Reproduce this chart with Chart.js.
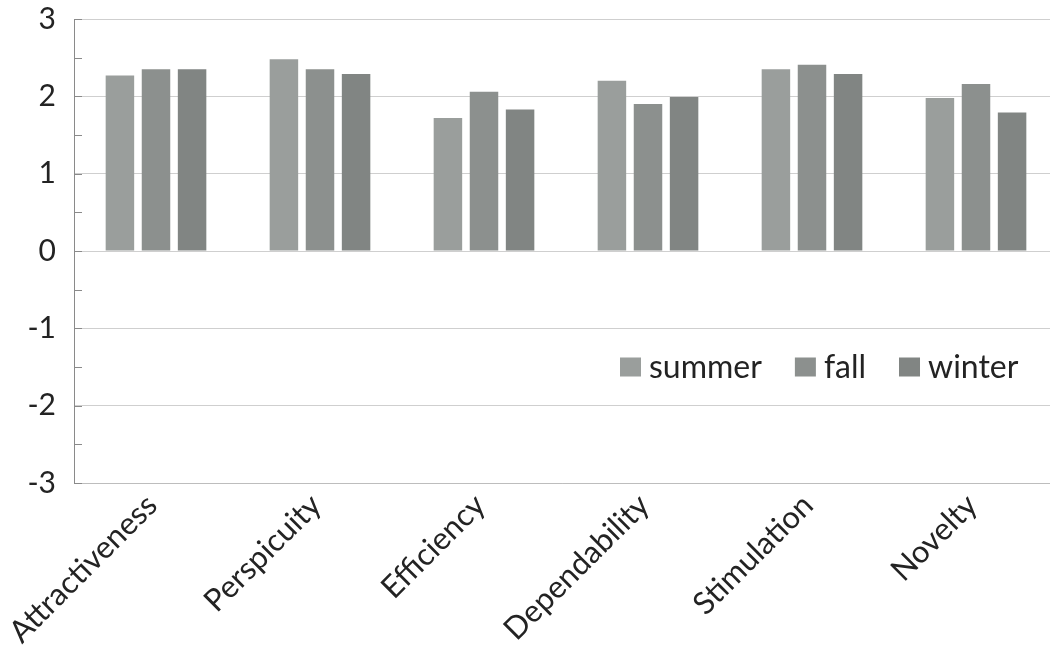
<!DOCTYPE html>
<html>
<head>
<meta charset="utf-8">
<script src="https://cdn.jsdelivr.net/npm/chart.js@4.4.1/dist/chart.umd.min.js"></script>
<style>
  html, body { margin: 0; padding: 0; background: #ffffff; }
  #wrap { width: 1050px; height: 655px; position: relative; }
</style>
</head>
<body>
<div id="wrap"><canvas id="c" width="1050" height="655"></canvas></div>
<script>
// UEQ scale means per season
const categories = ['Attractiveness', 'Perspicuity', 'Efficiency', 'Dependability', 'Stimulation', 'Novelty'];
const summer = [2.27, 2.48, 1.72, 2.20, 2.35, 1.98];
const fall   = [2.35, 2.35, 2.06, 1.90, 2.41, 2.16];
const winter = [2.35, 2.29, 1.83, 1.99, 2.29, 1.79];
const seriesNames = ['summer', 'fall', 'winter'];
const yTicks = [-3, -2, -1, 0, 1, 2, 3];

const colors = ['#9a9e9c', '#8c908e', '#818583'];
const FONT = 'Lato, "Noto Sans", sans-serif';
const TEXT = '#232323';

// the plot area runs a little past the right edge of the canvas
const widenPlot = {
  id: 'widenPlot',
  afterLayout(chart) {
    const extra = 8;
    const x = chart.scales.x;
    chart.chartArea.right += extra;
    chart.chartArea.width = chart.chartArea.right - chart.chartArea.left;
    x.right += extra;
    x.width = x.right - x.left;
    x.configure();
    chart.scales.y.configure();
  }
};

// small inward tick marks on the value axis at every half unit
const minorTicks = {
  id: 'minorTicks',
  afterDatasetsDraw(chart) {
    const y = chart.scales.y;
    const ctx = chart.ctx;
    const x0 = chart.chartArea.left;
    ctx.save();
    ctx.strokeStyle = '#8a8a8a';
    ctx.lineWidth = 1;
    for (let v = yTicks[0]; v <= yTicks[yTicks.length - 1]; v += 0.5) {
      const py = Math.round(y.getPixelForValue(v)) + 0.5;
      ctx.beginPath();
      ctx.moveTo(x0, py);
      ctx.lineTo(x0 + 8, py);
      ctx.stroke();
    }
    ctx.restore();
  }
};

// legend laid out inside the plot area, on one row
const innerLegend = {
  id: 'innerLegend',
  afterDraw(chart) {
    const ctx = chart.ctx;
    const area = chart.chartArea;
    const y = chart.scales.y;
    ctx.save();
    ctx.font = '32px ' + FONT;
    ctx.textBaseline = 'middle';
    ctx.textAlign = 'left';
    const boxW = 21, boxH = 19, gapText = 8, gapItem = 33;
    let x = area.left + 546;
    const cy = y.getPixelForValue(-1.5);
    chart.data.datasets.forEach((ds) => {
      ctx.fillStyle = ds.backgroundColor;
      ctx.fillRect(x, cy - boxH / 2, boxW, boxH);
      x += boxW + gapText;
      ctx.fillStyle = TEXT;
      ctx.fillText(ds.label, x, cy + 1);
      x += ctx.measureText(ds.label).width + gapItem;
    });
    ctx.restore();
  }
};

const datasets = [summer, fall, winter].map((vals, i) => ({
  label: seriesNames[i],
  data: vals,
  backgroundColor: colors[i],
  borderWidth: 0,
  categoryPercentage: 0.66,
  barPercentage: 0.79
}));

new Chart(document.getElementById('c'), {
  type: 'bar',
  data: { labels: categories, datasets },
  options: {
    responsive: false,
    animation: false,
    devicePixelRatio: 1,
    layout: { padding: { top: 19, right: 0, bottom: 0, left: 0 } },
    plugins: {
      legend: { display: false },
      tooltip: { enabled: false }
    },
    scales: {
      x: {
        grid: { display: false },
        border: { display: true, color: '#bdbdbd', width: 1 },
        ticks: {
          color: TEXT,
          font: { family: FONT, size: 31 },
          minRotation: 45,
          maxRotation: 45,
          padding: -4,
          labelOffset: -4,
          autoSkip: false
        },
        afterFit(scale) {
          scale.height = 172;
          scale.paddingLeft = 0;
          scale.paddingRight = 0;
        }
      },
      y: {
        min: yTicks[0],
        max: yTicks[yTicks.length - 1],
        afterBuildTicks(scale) { scale.ticks = yTicks.map(v => ({ value: v })); },
        grid: { color: '#cfcfcf', lineWidth: 1, drawTicks: false },
        border: { display: true, color: '#8a8a8a', width: 1 },
        ticks: {
          color: TEXT,
          font: { family: FONT, size: 30 },
          padding: 18,
          callback: (v) => String(v)
        },
        afterFit(scale) {
          scale.width = 74;
          scale.paddingTop = 0;
          scale.paddingBottom = 0;
        }
      }
    }
  },
  plugins: [widenPlot, minorTicks, innerLegend]
});
</script>
</body>
</html>
